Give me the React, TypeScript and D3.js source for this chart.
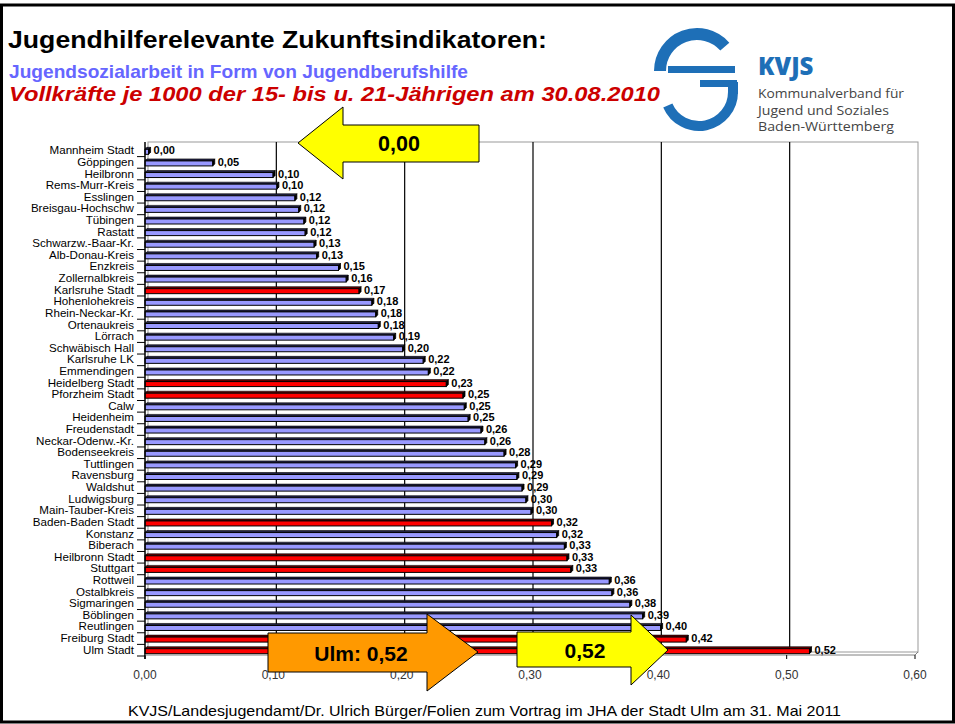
import * as d3 from "d3";

// Kreise und Städte, sortiert nach Wert
const categories = [
  "Mannheim Stadt", "Göppingen", "Heilbronn", "Rems-Murr-Kreis", "Esslingen",
  "Breisgau-Hochschw", "Tübingen", "Rastatt", "Schwarzw.-Baar-Kr.", "Alb-Donau-Kreis",
  "Enzkreis", "Zollernalbkreis", "Karlsruhe Stadt", "Hohenlohekreis", "Rhein-Neckar-Kr.",
  "Ortenaukreis", "Lörrach", "Schwäbisch Hall", "Karlsruhe LK", "Emmendingen",
  "Heidelberg Stadt", "Pforzheim Stadt", "Calw", "Heidenheim", "Freudenstadt",
  "Neckar-Odenw.-Kr.", "Bodenseekreis", "Tuttlingen", "Ravensburg", "Waldshut",
  "Ludwigsburg", "Main-Tauber-Kreis", "Baden-Baden Stadt", "Konstanz", "Biberach",
  "Heilbronn Stadt", "Stuttgart", "Rottweil", "Ostalbkreis", "Sigmaringen",
  "Böblingen", "Reutlingen", "Freiburg Stadt", "Ulm Stadt",
];

const values = [
  0.002, 0.052, 0.099, 0.102, 0.116,
  0.119, 0.123, 0.124, 0.131, 0.133,
  0.15, 0.156, 0.166, 0.176, 0.179,
  0.181, 0.193, 0.2, 0.216, 0.22,
  0.234, 0.247, 0.248, 0.251, 0.261,
  0.264, 0.279, 0.288, 0.289, 0.293,
  0.296, 0.3, 0.316, 0.32, 0.326,
  0.328, 0.331, 0.361, 0.363, 0.377,
  0.387, 0.401, 0.421, 0.517,
];

// Stadtkreise rot
const cities = [
  "Karlsruhe Stadt", "Heidelberg Stadt", "Pforzheim Stadt", "Baden-Baden Stadt",
  "Heilbronn Stadt", "Stuttgart", "Freiburg Stadt", "Ulm Stadt",
];

const xTicks = [0, 0.1, 0.2, 0.3, 0.4, 0.5, 0.6];

const logoLines = ["Kommunalverband für", "Jugend und Soziales", "Baden-Württemberg"];
const logoWidths = [146, 131, 136];

const W = 955;
const H = 724;
const font = "Arial, 'Liberation Sans', sans-serif";
const depth = 2;
const wall = 3;
const barH = 5;

const fmt = (v: number) => d3.format(".2f")(v).replace(".", ",");

function Arrow({ pts, fill }: { pts: number[][]; fill: string }) {
  return <polygon points={pts.map((p) => p.join(",")).join(" ")} fill={fill} stroke="#000" strokeWidth={1} />;
}

function Logo() {
  const blue = "#1e6fb7";
  const arcTop = d3.path();
  arcTop.arc(697, 71, 37, -0.72, Math.PI, true);
  const arcBot = d3.path();
  arcBot.arc(699, 92, 34, 0, Math.PI * 0.87, false);
  return (
    <g>
      <path d={arcTop.toString()} fill="none" stroke={blue} strokeWidth={12} />
      <rect x={668} y={66} width={67} height={7} fill={blue} />
      <rect x={700} y={80} width={37} height={7} fill={blue} />
      <path d={arcBot.toString()} fill="none" stroke={blue} strokeWidth={10} />
      <rect x={728} y={82} width={10} height={12} fill={blue} />
      <text x={758} y={75} fontFamily="'Open Sans', sans-serif" fontWeight={800} fontSize={24} fill={blue}>
        KVJS
      </text>
      {logoLines.map((t, i) => (
        <text
          key={t}
          x={758}
          y={98 + i * 16.5}
          fontFamily="'Open Sans', sans-serif"
          fontSize={12}
          fill="#444"
          textLength={logoWidths[i]}
          lengthAdjust="spacingAndGlyphs"
        >
          {t}
        </text>
      ))}
    </g>
  );
}

export default function App() {
  const x = d3.scaleLinear().domain([0, 0.6]).range([145, 915]);
  const y = d3.scaleBand<string>().domain(categories).range([145, 656]);
  const top = 142;
  const floor = 655;

  return (
    <svg width={W} height={H} style={{ position: "absolute", left: 0, top: 0 }} fontFamily={font}>
      <rect x={0} y={0} width={W} height={H} fill="#fff" />

      {/* Titel */}
      <text x={8} y={48} fontSize={23} fontWeight="bold" fill="#000" textLength={539} lengthAdjust="spacingAndGlyphs">
        Jugendhilferelevante Zukunftsindikatoren:
      </text>
      <text x={9} y={78} fontSize={18.5} fontWeight="bold" fill="#6666ff" textLength={459} lengthAdjust="spacingAndGlyphs">
        Jugendsozialarbeit in Form von Jugendberufshilfe
      </text>
      <text x={9} y={101} fontSize={20} fontWeight="bold" fontStyle="italic" fill="#cc0000" textLength={651} lengthAdjust="spacingAndGlyphs">
        Vollkräfte je 1000 der 15- bis u. 21-Jährigen am 30.08.2010
      </text>

      <Logo />

      {/* Rückwand */}
      <rect x={x(0) + wall} y={top} width={x(0.6) - x(0)} height={floor - wall - top} fill="#fff" stroke="#999" />
      {xTicks.slice(1, -1).map((t) => (
        <line key={t} x1={x(t) + wall} x2={x(t) + wall} y1={top} y2={floor - wall} stroke="#000" strokeWidth={1.2} />
      ))}

      {/* Balken */}
      {categories.map((c, i) => {
        const v = values[i];
        const yc = (y(c) as number) + y.bandwidth() / 2;
        const y0 = yc - 1.5;
        const x0 = x(0);
        const x1 = x(v) + 1;
        const red = cities.includes(c);
        const front = red ? "#ff0000" : "#9999ff";
        const topC = red ? "#600000" : "#222244";
        return (
          <g key={c}>
            <rect x={x0} y={y0 - depth} width={wall} height={barH + depth} fill="#808080" />
            <polygon
              points={`${x0},${y0} ${x0 + depth},${y0 - depth} ${x1 + depth},${y0 - depth} ${x1},${y0}`}
              fill={topC}
              stroke="#000"
              strokeWidth={0.6}
            />
            <rect x={x0} y={y0} width={Math.max(0, x1 - x0)} height={barH} fill={front} stroke="#000" strokeWidth={1} />
            <polygon
              points={`${x1},${y0} ${x1 + depth},${y0 - depth} ${x1 + depth},${y0 - depth + barH} ${x1},${y0 + barH}`}
              fill="#000"
              stroke="#000"
              strokeWidth={0.8}
            />
            <text x={x1 + depth + 3} y={yc + 3.5} fontSize={11} fontWeight="bold" fill="#000">
              {fmt(v)}
            </text>
            <text x={134} y={yc + 3.5} fontSize={11.6} textAnchor="end" fill="#000">
              {c}
            </text>
            <line x1={137} x2={x0} y1={(y(c) as number) + y.bandwidth()} y2={(y(c) as number) + y.bandwidth()} stroke="#000" />
          </g>
        );
      })}

      {/* Achsen */}
      <line x1={x(0)} x2={x(0)} y1={top} y2={floor + 4} stroke="#000" strokeWidth={1.5} />
      <line x1={x(0)} x2={x(0.6)} y1={floor} y2={floor} stroke="#808080" strokeWidth={1} />
      <line x1={x(0.6)} x2={x(0.6) + wall} y1={floor} y2={floor - wall} stroke="#808080" />
      {xTicks.map((t) => (
        <g key={t}>
          <line x1={x(t)} x2={x(t)} y1={floor} y2={floor + 4} stroke="#000" />
          <text x={x(t)} y={679} fontSize={12} textAnchor="middle" fill="#333">
            {fmt(t)}
          </text>
        </g>
      ))}

      {/* Pfeile */}
      <Arrow pts={[[298, 143], [343, 107], [343, 125], [479, 125], [479, 162], [343, 162], [343, 179]]} fill="#ffff00" />
      <text x={399} y={151} fontSize={21.5} fontWeight="bold" textAnchor="middle">0,00</text>

      <Arrow pts={[[268, 633], [427, 633], [427, 614], [478, 652], [427, 691], [427, 672], [268, 672]]} fill="#ff9900" />
      <text x={361} y={661} fontSize={21} fontWeight="bold" textAnchor="middle">Ulm: 0,52</text>

      <Arrow pts={[[517, 632], [631, 632], [631, 615], [668, 650], [631, 685], [631, 667], [517, 667]]} fill="#ffff00" />
      <text x={585} y={658} fontSize={21} fontWeight="bold" textAnchor="middle">0,52</text>

      {/* Fußzeile */}
      <text x={128} y={716} fontSize={14.5} fill="#000" textLength={713} lengthAdjust="spacingAndGlyphs">
        KVJS/Landesjugendamt/Dr. Ulrich Bürger/Folien zum Vortrag im JHA der Stadt Ulm am 31. Mai 2011
      </text>

      {/* Rahmen */}
      <rect x={1.5} y={5} width={W - 3} height={H - 7} fill="none" stroke="#000" strokeWidth={3} />
    </svg>
  );
}
